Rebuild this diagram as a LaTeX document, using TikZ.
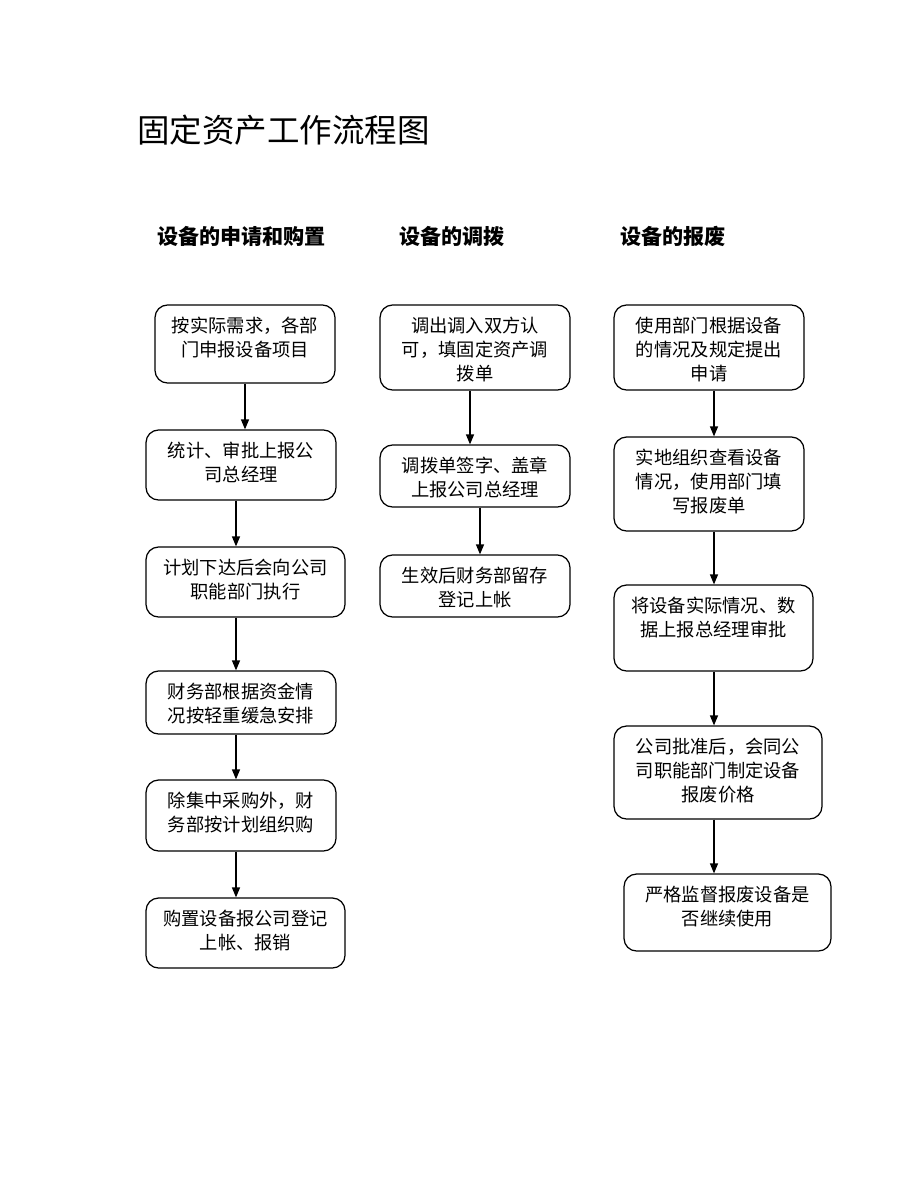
\documentclass[tikz,border=0pt]{standalone}
\usepackage{fontspec}
\setmainfont{Noto Sans CJK SC}
\usetikzlibrary{arrows.meta}
\tikzset{
    proc/.style={draw, rounded corners=0.25cm, inner sep=0pt, line width=0.7pt,
        font=\fontsize{10.4pt}{13.6pt}\selectfont},
    arr/.style={-{Triangle[length=2mm,width=1.6mm]}, line width=0.7pt},
    head/.style={anchor=west, font=\fontsize{12pt}{14pt}\selectfont\bfseries}
}
\newcommand{\boxtext}[3]{\parbox[c][#2][t]{#1}{\centering\vspace*{0.24cm}#3}}

\begin{document}
\begin{tikzpicture}[x=0.02cm, y=-0.02cm]

    \useasboundingbox (0,0) rectangle (920,1191);

    % title
    \node[anchor=west, font=\fontsize{18.5pt}{22pt}\selectfont] (title) at (131,130) {固定资产工作流程图};

    % column headings
    \node[head] (h1) at (151,236) {设备的申请和购置};
    \node[head] (h2) at (393,236) {设备的调拨};
    \node[head] (h3) at (614,236) {设备的报废};

    % arrow columns
    \coordinate (xa) at (245,0);
    \coordinate (xb) at (236,0);
    \coordinate (xc) at (470,0);
    \coordinate (xd) at (480,0);
    \coordinate (xe) at (714,0);

    % first column
    \node[proc] (b1) at (245,344) {\boxtext{3.6cm}{1.56cm}{按实际需求，各部\\门申报设备项目}};
    \node[proc] (b2) at (241,465) {\boxtext{3.8cm}{1.4cm}{统计、审批上报公\\司总经理}};
    \node[proc] (b3) at (245.5,582) {\boxtext{3.98cm}{1.4cm}{计划下达后会向公司\\职能部门执行}};
    \node[proc] (b4) at (241,702.5) {\boxtext{3.8cm}{1.26cm}{财务部根据资金情\\况按轻重缓急安排}};
    \node[proc] (b5) at (241,815.5) {\boxtext{3.8cm}{1.42cm}{除集中采购外，财\\务部按计划组织购}};
    \node[proc] (b6) at (245.5,933) {\boxtext{3.98cm}{1.4cm}{购置设备报公司登记\\上帐、报销}};

    % second column
    \node[proc] (c1) at (475,347.5) {\boxtext{3.8cm}{1.7cm}{调出调入双方认\\可，填固定资产调\\拨单}};
    \node[proc] (c2) at (475,476) {\boxtext{3.8cm}{1.24cm}{调拨单签字、盖章\\上报公司总经理}};
    \node[proc] (c3) at (475,586) {\boxtext{3.8cm}{1.24cm}{生效后财务部留存\\登记上帐}};

    % third column
    \node[proc] (d1) at (709,347.5) {\boxtext{3.8cm}{1.7cm}{使用部门根据设备\\的情况及规定提出\\申请}};
    \node[proc] (d2) at (709,484) {\boxtext{3.8cm}{1.88cm}{实地组织查看设备\\情况，使用部门填\\写报废单}};
    \node[proc] (d3) at (713.5,628) {\boxtext{3.98cm}{1.72cm}{将设备实际情况、数\\据上报总经理审批}};
    \node[proc] (d4) at (718,772.5) {\boxtext{4.16cm}{1.86cm}{公司批准后，会同公\\司职能部门制定设备\\报废价格}};
    \node[proc] (d5) at (727.5,912.5) {\boxtext{4.14cm}{1.54cm}{严格监督报废设备是\\否继续使用}};

    % arrows
    \draw[arr] (b1.south -| xa) -- (b2.north -| xa);
    \foreach \s/\t in {b2/b3, b3/b4, b4/b5, b5/b6}
        \draw[arr] (\s.south -| xb) -- (\t.north -| xb);
    \draw[arr] (c1.south -| xc) -- (c2.north -| xc);
    \draw[arr] (c2.south -| xd) -- (c3.north -| xd);
    \foreach \s/\t in {d1/d2, d2/d3, d3/d4, d4/d5}
        \draw[arr] (\s.south -| xe) -- (\t.north -| xe);

\end{tikzpicture}
\end{document}
